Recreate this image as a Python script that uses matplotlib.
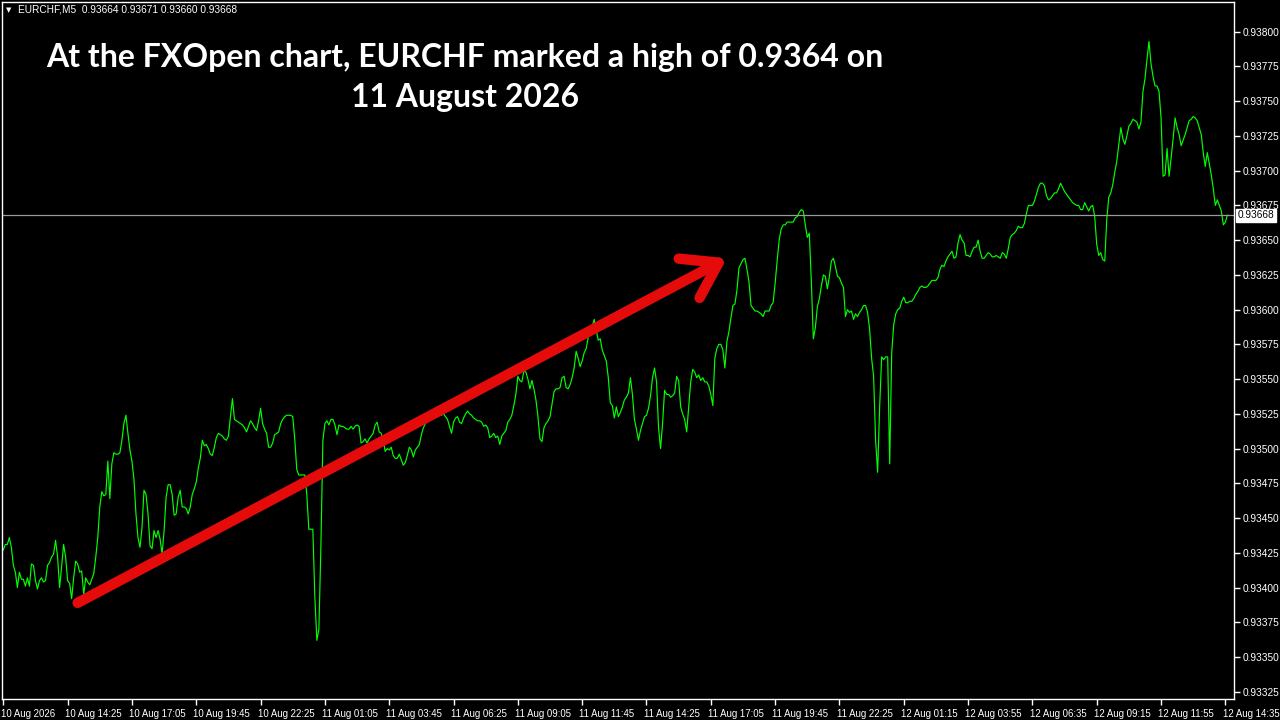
import numpy as np
import matplotlib
matplotlib.use("Agg")
from matplotlib import pyplot as plt
import matplotlib.transforms as mtrans

# EURCHF M5 close prices, in points (1 point = 0.00001), one value per bar
close_pts = [
    93427, 93431, 93431, 93436, 93429, 93416, 93411, 93400, 93411, 93406,
    93406, 93401, 93407, 93401, 93417, 93416, 93405, 93399, 93405, 93407,
    93404, 93405, 93416, 93418, 93422, 93424, 93434, 93422, 93400, 93415,
    93431, 93422, 93405, 93403, 93392, 93407, 93419, 93417, 93411, 93412,
    93395, 93407, 93404, 93402, 93406, 93410, 93422, 93436, 93458, 93469,
    93466, 93467, 93491, 93464, 93489, 93497, 93496, 93496, 93497, 93506,
    93518, 93524, 93511, 93499, 93491, 93478, 93453, 93436, 93429, 93443,
    93470, 93467, 93453, 93430, 93428, 93441, 93436, 93441, 93435, 93424,
    93441, 93465, 93474, 93474, 93467, 93452, 93453, 93465, 93470, 93458,
    93458, 93457, 93453, 93458, 93467, 93471, 93476, 93486, 93493, 93506,
    93502, 93503, 93500, 93496, 93495, 93501, 93508, 93511, 93510, 93509,
    93507, 93506, 93509, 93523, 93536, 93521, 93520, 93519, 93518, 93517,
    93515, 93512, 93516, 93520, 93518, 93515, 93513, 93520, 93529, 93518,
    93514, 93511, 93501, 93501, 93504, 93510, 93511, 93512, 93518, 93521,
    93523, 93524, 93524, 93524, 93523, 93507, 93485, 93481, 93481, 93481,
    93481, 93467, 93442, 93442, 93442, 93393, 93362, 93370, 93429, 93506,
    93518, 93520, 93517, 93521, 93521, 93517, 93510, 93517, 93516, 93516,
    93515, 93514, 93514, 93516, 93514, 93516, 93517, 93516, 93504, 93505,
    93507, 93504, 93507, 93509, 93511, 93517, 93519, 93512, 93511, 93506,
    93498, 93500, 93499, 93501, 93495, 93493, 93493, 93496, 93492, 93488,
    93490, 93495, 93501, 93499, 93494, 93499, 93501, 93503, 93510, 93515,
    93518, 93521, 93521, 93521, 93523, 93523, 93524, 93524, 93524, 93525,
    93523, 93521, 93516, 93511, 93519, 93522, 93523, 93519, 93518, 93522,
    93525, 93527, 93525, 93524, 93522, 93521, 93520, 93520, 93519, 93516,
    93517, 93515, 93508, 93509, 93511, 93508, 93509, 93503, 93509, 93511,
    93513, 93519, 93521, 93524, 93531, 93539, 93552, 93549, 93548, 93556,
    93555, 93550, 93543, 93549, 93543, 93535, 93523, 93507, 93505, 93515,
    93518, 93520, 93523, 93532, 93541, 93543, 93543, 93544, 93551, 93552,
    93544, 93543, 93546, 93551, 93558, 93570, 93565, 93559, 93563, 93569,
    93572, 93580, 93585, 93588, 93593, 93585, 93578, 93579, 93571, 93567,
    93563, 93551, 93533, 93531, 93522, 93530, 93523, 93526, 93530, 93535,
    93537, 93540, 93551, 93539, 93521, 93514, 93506, 93513, 93518, 93523,
    93524, 93529, 93538, 93551, 93558, 93548, 93515, 93500, 93518, 93542,
    93539, 93539, 93537, 93538, 93540, 93552, 93549, 93530, 93525, 93521,
    93512, 93530, 93548, 93557, 93555, 93551, 93553, 93549, 93551, 93548,
    93548, 93545, 93539, 93531, 93565, 93572, 93575, 93575, 93571, 93558,
    93577, 93584, 93594, 93603, 93604, 93614, 93630, 93633, 93636, 93637,
    93629, 93620, 93603, 93601, 93599, 93599, 93598, 93597, 93595, 93599,
    93599, 93599, 93603, 93605, 93619, 93635, 93650, 93658, 93661, 93661,
    93663, 93663, 93663, 93663, 93666, 93667, 93670, 93672, 93671, 93661,
    93652, 93655, 93621, 93579, 93587, 93602, 93608, 93617, 93625, 93624,
    93615, 93624, 93635, 93637, 93631, 93624, 93623, 93619, 93616, 93595,
    93600, 93598, 93599, 93593, 93597, 93595, 93598, 93600, 93603, 93603,
    93598, 93586, 93565, 93552, 93506, 93483, 93530, 93566, 93564, 93566,
    93566, 93489, 93569, 93589, 93597, 93600, 93601, 93606, 93609, 93605,
    93605, 93606, 93606, 93608, 93611, 93613, 93616, 93617, 93616, 93616,
    93617, 93619, 93621, 93621, 93621, 93623, 93629, 93632, 93631, 93635,
    93638, 93640, 93642, 93637, 93638, 93648, 93654, 93650, 93648, 93639,
    93639, 93638, 93642, 93645, 93645, 93650, 93642, 93637, 93637, 93639,
    93641, 93640, 93638, 93638, 93639, 93638, 93637, 93641, 93640, 93637,
    93644, 93652, 93654, 93655, 93657, 93660, 93659, 93659, 93662, 93669,
    93675, 93675, 93675, 93678, 93683, 93688, 93691, 93691, 93689, 93682,
    93679, 93680, 93682, 93684, 93684, 93687, 93691, 93688, 93685, 93683,
    93681, 93679, 93677, 93676, 93675, 93675, 93672, 93672, 93677, 93674,
    93671, 93674, 93675, 93667, 93647, 93639, 93641, 93636, 93635, 93665,
    93681, 93684, 93690, 93699, 93707, 93719, 93731, 93723, 93719, 93725,
    93732, 93734, 93737, 93736, 93735, 93730, 93735, 93757, 93766, 93780,
    93793, 93777, 93768, 93761, 93761, 93757, 93738, 93696, 93697, 93716,
    93696, 93709, 93723, 93738, 93731, 93726, 93718, 93722, 93726, 93731,
    93736, 93737, 93739, 93738, 93736, 93731, 93726, 93713, 93703, 93713,
    93705, 93697, 93687, 93675, 93679, 93675, 93671, 93661, 93663, 93668,
]

# time labels every 32 bars
time_labels = [
    "10 Aug 2026", "10 Aug 14:25", "10 Aug 17:05", "10 Aug 19:45", "10 Aug 22:25",
    "11 Aug 01:05", "11 Aug 03:45", "11 Aug 06:25", "11 Aug 09:05", "11 Aug 11:45",
    "11 Aug 14:25", "11 Aug 17:05", "11 Aug 19:45", "11 Aug 22:25", "12 Aug 01:15",
    "12 Aug 03:55", "12 Aug 06:35", "12 Aug 09:15", "12 Aug 11:55", "12 Aug 14:35",
]
label_step = 32

price_ticks = [0.93325 + 0.00025 * k for k in range(20)]
header = "EURCHF,M5  0.93664 0.93671 0.93660 0.93668"
last_price = 0.93668
title = "At the FXOpen chart, EURCHF marked a high of 0.9364 on\n11 August 2026"

# trendline drawn on the chart (bar, price)
arrow_start = (37, 0.93389)
arrow_end = (360, 0.93637)

closes = np.array(close_pts) / 1e5
bars = np.arange(len(closes))

fig = plt.figure(figsize=(12.8, 7.2), dpi=100, facecolor="black")
ax = fig.add_axes([2 / 1280, 21 / 720, 1232 / 1280, 697 / 720])
ax.set_facecolor("black")

ax.plot(bars, closes, color="#00ff00", lw=0.85)
ax.axhline(last_price, color="#9a9a9a", lw=0.9)

ax.set_xlim(-0.65, 612.3)
ax.set_ylim(0.933198, 0.938214)

for s in ax.spines.values():
    s.set_color("white")
    s.set_linewidth(1)

ax.yaxis.tick_right()
ax.set_yticks(price_ticks)
ax.set_yticklabels(["%.5f" % p for p in price_ticks])
ax.set_xticks(np.arange(len(time_labels)) * label_step)
ax.set_xticklabels(time_labels, ha="left")
ax.tick_params(colors="white", direction="out", length=4, width=1,
               labelsize=7.3)
ax.tick_params(axis="x", pad=3, labelsize=6.9)
ax.tick_params(axis="y", pad=2)
off = mtrans.ScaledTranslation(-2 / 72, 0, fig.dpi_scale_trans)
for lab in ax.get_xticklabels() + ax.get_yticklabels():
    lab.set_fontfamily("Liberation Sans")
for lab in ax.get_xticklabels():
    lab.set_transform(lab.get_transform() + off)

# current price box
ax.text(1.003, last_price, "%.5f" % last_price, transform=ax.get_yaxis_transform(),
        ha="left", va="center", fontsize=7.3, family="Liberation Sans", color="black",
        bbox=dict(boxstyle="square,pad=0.15", fc="white", ec="white"))

# header
fig.text(6 / 1280, 1 - 10 / 720, "\u25bc", fontsize=5, color="white", va="center")
fig.text(18 / 1280, 1 - 10 / 720, header, fontsize=7.3, family="Liberation Sans",
         color="white", va="center")

# red arrow
ax.annotate("", xy=arrow_end, xytext=arrow_start,
            arrowprops=dict(arrowstyle="->,head_length=2.4,head_width=1.6",
                            color="#e60b0b", lw=7.5, shrinkA=0, shrinkB=0,
                            capstyle="round", joinstyle="round"))

fig.text(465 / 1280, 1 - 57 / 720, title.split("\n")[0], ha="center", va="center",
         fontsize=23, fontweight="bold", family="Lato", color="white")
fig.text(465 / 1280, 1 - 98 / 720, title.split("\n")[1], ha="center", va="center",
         fontsize=23, fontweight="bold", family="Lato", color="white")

plt.savefig("out.png", dpi=100, facecolor="black")
